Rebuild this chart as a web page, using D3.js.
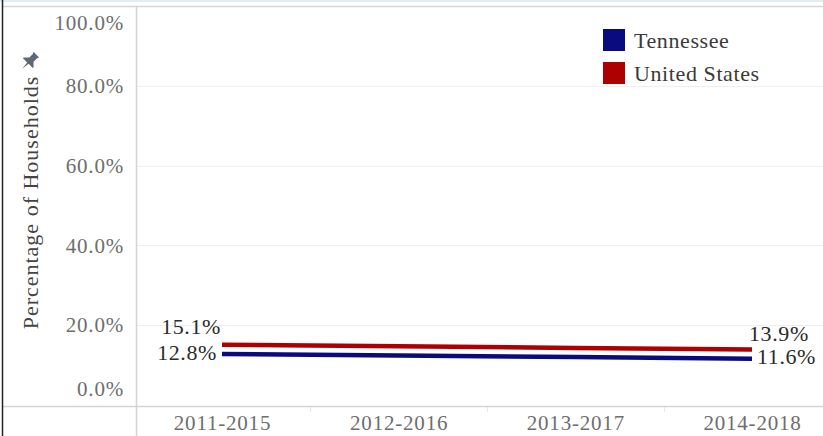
<!DOCTYPE html>
<html>
<head>
<meta charset="utf-8">
<script src="https://cdn.jsdelivr.net/npm/d3@7"></script>
<style>
  html, body { margin: 0; padding: 0; background: #fff; }
  svg { display: block; }
  svg text { font-family: "Liberation Serif", "DejaVu Serif", serif; }
</style>
</head>
<body>
<svg id="chart" width="823" height="436"></svg>
<script>
// Share of households, 5-year ACS periods
const periods = ["2011-2015", "2012-2016", "2013-2017", "2014-2018"];
const tennessee = [12.8, 12.4, 12.0, 11.6];
const unitedStates = [15.1, 14.7, 14.3, 13.9];
const seriesNames = ["Tennessee", "United States"];
const seriesColors = ["#0b0b80", "#ad0000"];
const yTicks = [0, 20, 40, 60, 80, 100];

const W = 823, H = 436;
const axisX = 136, axisY = 406, topY = 6;
const serif = '"Liberation Serif", "DejaVu Serif", serif';

const svg = d3.select("#chart");
svg.append("rect").attr("width", W).attr("height", H).attr("fill", "#fff");

const x = d3.scalePoint().domain(periods).range([222, 752]);
const y = d3.scaleLinear().domain([0, 100]).range([405, topY]);

// frame: thin top strip, top rule, left border
svg.append("rect").attr("x", 0).attr("y", 0).attr("width", W).attr("height", 2).attr("fill", "#e3ebf4");
svg.append("line").attr("x1", 2).attr("x2", W).attr("y1", topY + 0.5).attr("y2", topY + 0.5)
  .attr("stroke", "#d6d6d6").attr("stroke-width", 1.5);

// gridlines
svg.append("g").selectAll("line").data(yTicks.filter(t => t > 0 && t < 100)).join("line")
  .attr("x1", axisX).attr("x2", W)
  .attr("y1", d => Math.round(y(d)) + 0.5).attr("y2", d => Math.round(y(d)) + 0.5)
  .attr("stroke", "#efefef").attr("stroke-width", 1);

// y axis labels
const yAxis = svg.append("g").attr("transform", `translate(${axisX - 12},0)`)
  .call(d3.axisLeft(y).tickValues(yTicks).tickSize(0).tickPadding(0).tickFormat(d => d.toFixed(1) + "%"));
yAxis.attr("font-family", serif);
yAxis.select(".domain").remove();
yAxis.selectAll("text")
  .style("font-family", serif)
  .attr("font-size", 21).attr("letter-spacing", 0.8).attr("fill", "#6e6e6e")
  .attr("dy", d => d === 100 ? "1.1em" : d === 0 ? "-0.45em" : "0.32em");

// x axis labels
const xAxis = svg.append("g").attr("transform", `translate(0,${axisY})`)
  .call(d3.axisBottom(x).tickSize(0).tickPadding(0));
xAxis.attr("font-family", serif);
xAxis.select(".domain").remove();
xAxis.selectAll("text")
  .style("font-family", serif)
  .attr("font-size", 21).attr("letter-spacing", 0.8).attr("fill", "#6e6e6e")
  .attr("dy", "1.15em");

// header separators between period cells
const step = x.step();
svg.append("g").selectAll("line").data(periods.slice(1)).join("line")
  .attr("x1", d => Math.round(x(d) - step / 2) + 0.5).attr("x2", d => Math.round(x(d) - step / 2) + 0.5)
  .attr("y1", axisY + 1).attr("y2", axisY + 6)
  .attr("stroke", "#e6e6e6");

// axis rules
svg.append("line").attr("x1", axisX + 0.5).attr("x2", axisX + 0.5).attr("y1", topY).attr("y2", H)
  .attr("stroke", "#d4d4d4").attr("stroke-width", 1.5);
svg.append("line").attr("x1", 2).attr("x2", W).attr("y1", axisY + 0.5).attr("y2", axisY + 0.5)
  .attr("stroke", "#d4d4d4").attr("stroke-width", 1.5);
svg.append("line").attr("x1", 2.5).attr("x2", 2.5).attr("y1", 0).attr("y2", H)
  .attr("stroke", "#222").attr("stroke-width", 1.5);

// axis title
svg.append("text")
  .attr("transform", `translate(38,${(75 + 330) / 2}) rotate(-90)`)
  .attr("text-anchor", "middle")
  .style("font-family", serif)
  .attr("font-size", 22).attr("letter-spacing", 1).attr("fill", "#444")
  .text("Percentage of Households");

// pin icon
svg.append("path")
  .attr("transform", "translate(30,61) rotate(45)")
  .attr("d", "M-4,-9 L4,-9 L3,-7 L3,-2 L7,2 L7,3 L1,3 L0,11 L-1,3 L-7,3 L-7,2 L-3,-2 L-3,-7 Z")
  .attr("fill", "#5f6976");

// lines
const series = [
  { name: seriesNames[1], values: unitedStates, color: seriesColors[1] },
  { name: seriesNames[0], values: tennessee, color: seriesColors[0] }
];
const line = d3.line().x((d, i) => x(periods[i])).y(d => y(d));
svg.append("g").selectAll("path").data(series).join("path")
  .attr("d", d => line(d.values))
  .attr("fill", "none").attr("stroke", d => d.color).attr("stroke-width", 4.5)
  .attr("stroke-linecap", "butt");

// end-point labels
const last = periods.length - 1;
const labels = [
  { v: unitedStates[0], x: x(periods[0]) - 1, dy: -18, anchor: "end" },
  { v: tennessee[0], x: x(periods[0]) - 5, dy: -2, anchor: "end" },
  { v: unitedStates[last], x: x(periods[last]) - 3, dy: -16, anchor: "start" },
  { v: tennessee[last], x: x(periods[last]) + 5, dy: -2, anchor: "start" }
];
svg.append("g").selectAll("text").data(labels).join("text")
  .attr("x", d => d.x).attr("y", d => y(d.v) + d.dy)
  .attr("dy", "0.35em")
  .attr("text-anchor", d => d.anchor)
  .style("font-family", serif)
  .attr("font-size", 22).attr("letter-spacing", 0.6).attr("fill", "#2b2b2b")
  .text(d => d.v.toFixed(1) + "%");

// legend
const legend = svg.append("g").attr("transform", "translate(603,29)");
const items = legend.selectAll("g").data(seriesNames).join("g")
  .attr("transform", (d, i) => `translate(0,${i * 33})`);
items.append("rect").attr("width", 22).attr("height", 22)
  .attr("fill", (d, i) => seriesColors[i]);
items.append("text").attr("x", 31).attr("y", 11).attr("dy", "0.35em")
  .style("font-family", serif)
  .attr("font-size", 22).attr("letter-spacing", 0.6).attr("fill", "#3a3a3a")
  .text(d => d);
</script>
</body>
</html>
